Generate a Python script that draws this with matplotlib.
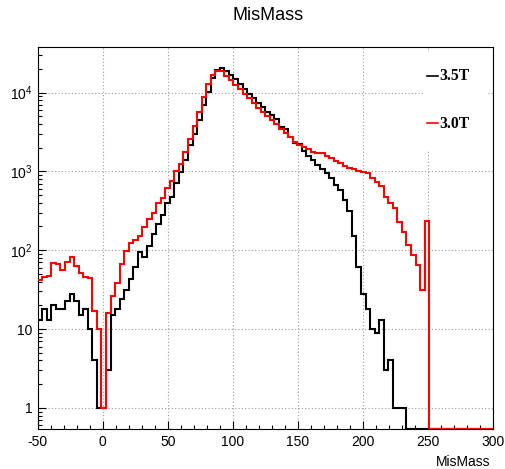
import matplotlib
matplotlib.use('Agg')
import matplotlib.pyplot as plt
import numpy as np
from matplotlib.ticker import MultipleLocator, FixedLocator, FixedFormatter, NullFormatter
from matplotlib.patches import Rectangle
from matplotlib.lines import Line2D

plt.rcParams['font.family'] = ['Liberation Sans', 'DejaVu Sans']
plt.rcParams['mathtext.fontset'] = 'custom'
plt.rcParams['mathtext.rm'] = 'Liberation Sans'
plt.rcParams['mathtext.default'] = 'regular'

# ---- data ----
x_min, x_max, n_bins = -50.0, 300.0, 100
series_labels = ['3.5T', '3.0T']
counts_35T = [13, 18, 13, 20, 18, 18, 23, 28, 23, 15,
              18, 10, 4, 1, 1, 3, 15, 18, 24, 31,
              43, 62, 94, 81, 114, 159, 214, 279, 393, 476,
              704, 988, 1390, 2157, 2946, 4480, 6940, 10070, 15140, 19300,
              20300, 19000, 16700, 14800, 12700, 11080, 9480, 8440, 7430, 6490,
              5700, 5180, 4610, 3680, 3440, 2750, 2307, 2200, 1800, 1563,
              1390, 1202, 1059, 960, 815, 670, 585, 435, 318, 150,
              62, 28, 18, 10, 9, 13, 3, 4, 1, 1,
              1, 0, 0, 0, 0, 0, 0, 0, 0, 0,
              0, 0, 0, 0, 0, 0, 0, 0, 0, 0]
counts_30T = [42, 46, 47, 69, 66, 56, 71, 82, 63, 52,
              46, 44, 17, 10, 1, 16, 26, 38, 66, 97,
              122, 134, 151, 195, 246, 301, 400, 454, 608, 753,
              1018, 1228, 1774, 2548, 3756, 5705, 8845, 12700, 16700, 18900,
              18900, 16300, 14400, 12400, 10970, 9480, 8600, 7300, 6410, 5610,
              5080, 4480, 3950, 3440, 3030, 2700, 2375, 2157, 2015, 1901,
              1774, 1722, 1690, 1580, 1480, 1370, 1260, 1160, 1091, 1059,
              1009, 988, 960, 815, 738, 651, 476, 400, 345, 229,
              171, 118, 87, 65, 31, 236, 0, 0, 0, 0,
              0, 0, 0, 0, 0, 0, 0, 0, 0, 0]
x_ticks = [-50, 0, 50, 100, 150, 200, 250, 300]
y_ticks = [1, 10, 100, 1000, 10000]
y_tick_labels = ['1', '10', '$10^{2}$', '$10^{3}$', '$10^{4}$']
y_lo, y_hi = 0.54, 37500

W, H = 506, 469
fig = plt.figure(figsize=(W / 100, H / 100), dpi=100)
L, R, T, B = 37.7, 493, 47.3, 429
ax = fig.add_axes([L / W, 1 - B / H, (R - L) / W, (B - T) / H])

edges = np.linspace(x_min, x_max, n_bins + 1)
for vals, col in [(counts_35T, 'black'), (counts_30T, '#ff0000')]:
    v = np.asarray(vals, dtype=float)
    v = np.where(v > 0, v, y_lo)
    ax.stairs(v, edges, baseline=None, color=col, lw=1.5, zorder=3)

ax.set_yscale('log')
ax.set_xlim(x_min, x_max)
ax.set_ylim(y_lo, y_hi)

ax.xaxis.set_major_locator(FixedLocator(x_ticks))
ax.xaxis.set_major_formatter(FixedFormatter([str(t) for t in x_ticks]))
ax.xaxis.set_minor_locator(MultipleLocator(10))
ax.yaxis.set_major_locator(FixedLocator(y_ticks))
ax.yaxis.set_major_formatter(FixedFormatter(y_tick_labels))
minor_y = [m * 10 ** e for e in range(-1, 5) for m in range(2, 10)]
ax.yaxis.set_minor_locator(FixedLocator(minor_y))
ax.yaxis.set_minor_formatter(NullFormatter())

ax.tick_params(axis='both', which='both', direction='in', top=False, right=False,
               colors='black', labelsize=10)
ax.tick_params(axis='x', which='major', length=6, width=0.8, pad=4)
ax.tick_params(axis='x', which='minor', length=3.2, width=0.8)
ax.tick_params(axis='y', which='major', length=5.5, width=0.8, pad=4)
ax.tick_params(axis='y', which='minor', length=3, width=0.8)

ax.grid(True, which='major', linestyle=(0, (1, 2)), color='#9a9a9a', lw=0.8, zorder=1)
for s in ax.spines.values():
    s.set_linewidth(0.8)
    s.set_color('black')

# legend (ROOT-style, no border, white fill)
fig.patches.append(Rectangle((425 / W, 1 - 150 / H), 62 / W, 98 / H,
                             transform=fig.transFigure, facecolor='white',
                             edgecolor='none', zorder=5))
for lab, col, yy in [(series_labels[0], 'black', 76.5), (series_labels[1], '#ff0000', 123.5)]:
    fig.lines.append(Line2D([426.7 / W, 438.5 / W], [1 - yy / H, 1 - yy / H],
                            transform=fig.transFigure, color=col, lw=1.2, zorder=6))
    fig.text(439.5 / W, 1 - yy / H, lab, ha='left', va='center', fontsize=11.3,
             fontweight='bold', family=['Liberation Serif', 'DejaVu Serif'], zorder=6)

fig.text(268 / W, 1 - 16 / H, 'MisMass', ha='center', va='center', fontsize=13)
fig.text(490 / W, 1 - 461.5 / H, 'MisMass', ha='right', va='center', fontsize=10)

fig.savefig('out.png', dpi=100, facecolor='white')
